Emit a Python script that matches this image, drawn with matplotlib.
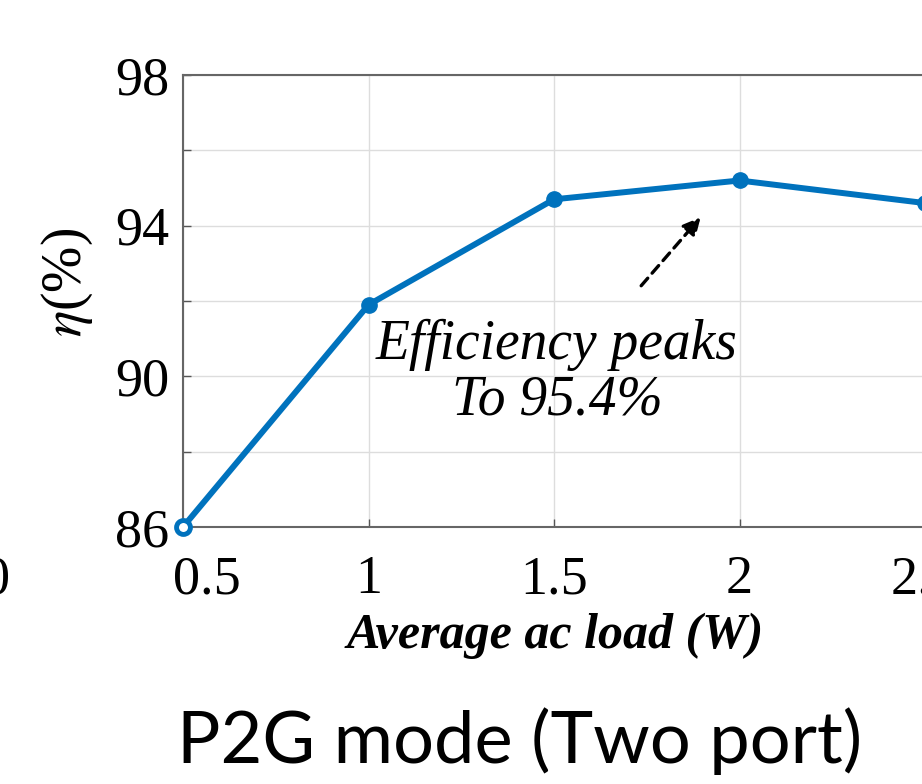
import numpy as np
import matplotlib
matplotlib.use("Agg")
import matplotlib.pyplot as plt
from matplotlib.transforms import ScaledTranslation

plt.rcParams["mathtext.fontset"] = "stix"

# ── Data ──
load_w = [0.5, 1.0, 1.5, 2.0, 2.5, 3.0]
eff_pct = [86.0, 91.9, 94.7, 95.2, 94.6, 94.0]
y_ticks = [86, 88, 90, 92, 94, 96, 98]
y_labels = ["86", "", "90", "", "94", "", "98"]
x_ticks = [0.5, 1.0, 1.5, 2.0, 2.5, 3.0]
x_labels = ["0.5", "1", "1.5", "2", "2.5", "3"]

serif = "Liberation Serif"
blue = "#0072BD"

fig = plt.figure(figsize=(9.22, 7.84), dpi=100)
ax = fig.add_axes([0.1985, 0.3278, 1.006, 0.5765])

ax.plot(load_w, eff_pct, color=blue, lw=4.3, marker="o", ms=11,
        mfc=blue, mec=blue, zorder=3, clip_on=False)
# first point drawn as an open ring, as in the reference
ax.plot(load_w[:1], eff_pct[:1], ls="none", marker="o", ms=10,
        mfc="white", mec=blue, mew=3.5, zorder=4, clip_on=False)

ax.set_xlim(0.5, 3.0)
ax.set_ylim(86, 98)
ax.set_xticks(x_ticks)
ax.set_xticklabels(x_labels)
ax.set_yticks(y_ticks)
ax.set_yticklabels(y_labels)
ax.grid(True, color="#dddddd", lw=1.0)
ax.set_axisbelow(True)
ax.tick_params(direction="in", length=6, width=1, color="#555555",
               top=False, right=False)
ax.tick_params(axis="x", pad=20)
ax.tick_params(axis="y", pad=10)
for lab in ax.get_xticklabels() + ax.get_yticklabels():
    lab.set_fontfamily(serif)
    lab.set_fontsize(39)
# first x label sits a little to the right of its tick
first = ax.get_xticklabels()[0]
first.set_transform(first.get_transform() +
                    ScaledTranslation(0.24, 0, fig.dpi_scale_trans))
for sp in ax.spines.values():
    sp.set_color("#666666")
    sp.set_linewidth(1.5)

ax.set_ylabel(r"$\eta$(%)", fontsize=40, fontfamily=serif)
ax.yaxis.set_label_coords(-0.095, 0.54)
ax.set_xlabel("Average ac load (W)", fontsize=36, fontfamily=serif,
              fontweight="bold", fontstyle="italic")
ax.xaxis.set_label_coords(0.401, -0.19)

ax.text(1.508, 90.1, "Efficiency peaks\nTo 95.4%", ha="center", va="center",
        fontsize=40, fontfamily=serif, fontstyle="italic", linespacing=1.1)
ax.annotate("", xy=(1.90, 94.28), xytext=(1.73, 92.35),
            arrowprops=dict(arrowstyle="-|>", ls=(0, (3, 2)), lw=2.4,
                            color="black", mutation_scale=26))

# fragment of the neighbouring panel's tick label
fig.text(0.011, 0.26, "0", ha="right", va="center", fontsize=39,
         fontfamily=serif)

fig.text(0.564, 0.055, "P2G mode (Two port)", ha="center", va="center",
         fontsize=52, fontfamily="Lato")

fig.savefig("out.png", dpi=100, facecolor="white")
